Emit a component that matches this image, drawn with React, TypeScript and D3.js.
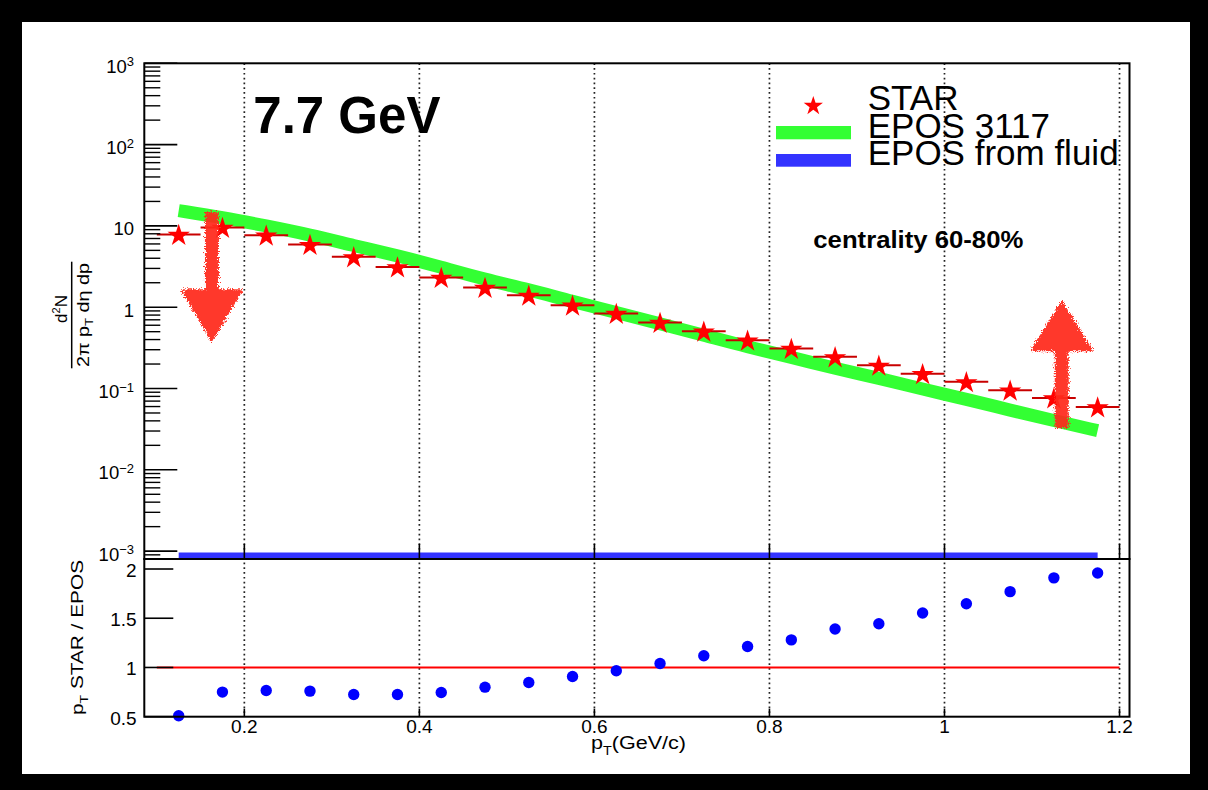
import React from "react";
import * as d3 from "d3";

// ---------- data ----------
const ptBins = [0.125, 0.175, 0.225, 0.275, 0.325, 0.375, 0.425, 0.475, 0.525, 0.575, 0.625,
  0.675, 0.725, 0.775, 0.825, 0.875, 0.925, 0.975, 1.025, 1.075, 1.125, 1.175];
const starYield = [7.84, 9.56, 7.69, 5.9, 4.16, 3.13, 2.32, 1.75, 1.4, 1.06, 0.837,
  0.649, 0.507, 0.393, 0.311, 0.245, 0.193, 0.152, 0.121, 0.0954, 0.0765, 0.0594];
const eposYield = [15.4, 12.7, 10.0, 7.76, 5.73, 4.31, 3.11, 2.19, 1.65, 1.17, 0.866,
  0.624, 0.453, 0.324, 0.243, 0.176, 0.134, 0.098, 0.0738, 0.0542, 0.0403, 0.0303];
const fluidYield = [0, 0, 0, 0, 0, 0, 0, 0, 0, 0, 0, 0, 0, 0, 0, 0, 0, 0, 0, 0, 0, 0];
const ratioValues = [0.51, 0.75, 0.766, 0.76, 0.726, 0.726, 0.746, 0.8, 0.848, 0.909, 0.966,
  1.04, 1.119, 1.213, 1.28, 1.39, 1.444, 1.553, 1.647, 1.77, 1.91, 1.96];
const binHalfWidth = 0.025;

const xTicks = [0.2, 0.4, 0.6, 0.8, 1.0, 1.2];
const xTickLabels = ["0.2", "0.4", "0.6", "0.8", "1", "1.2"];
const yTopExponents = [-3, -2, -1, 0, 1, 2, 3];
const yTopLabels = [
  { base: "10", sup: "\u22123" },
  { base: "10", sup: "\u22122" },
  { base: "10", sup: "\u22121" },
  { base: "1", sup: "" },
  { base: "10", sup: "" },
  { base: "10", sup: "2" },
  { base: "10", sup: "3" },
];
const yBotTicks = [0.5, 1, 1.5, 2];
const yBotLabels = ["0.5", "1", "1.5", "2"];

const legendItems = ["STAR", "EPOS 3117", "EPOS from fluid"];

// hand-drawn arrow annotations (data coordinates)
const arrowDown = { pt: 0.163, from: 14.3, base: 1.62, tip: 0.39, headHalf: 0.034 };
const arrowUp = { pt: 1.134, from: 0.0337, base: 0.296, tip: 1.16, headHalf: 0.0343 };

// ---------- layout ----------
const W = 1208;
const H = 790;
const FL = 144.3, FR = 1129.5;
const TOP = 63.3, MID = 559, BOT = 716.7;
const FONT = "'Liberation Sans', Arial, Helvetica, sans-serif";

const xScale = d3.scaleLinear().domain([0.0857, 1.2114]).range([FL, FR]);
const yTop = d3.scaleLog().domain([Math.pow(10, -3.097), 1000]).range([MID, TOP]);
const yBot = d3.scaleLinear().domain([0.5, 2.1016]).range([BOT, MID]);

const starPath = d3.symbol(d3.symbolStar, 155)() as string;
const starPathLegend = d3.symbol(d3.symbolStar, 115)() as string;

function arrowPath(a: typeof arrowDown) {
  const x0 = xScale(a.pt);
  const hw = xScale(a.pt + a.headHalf) - x0;
  const sw = 6;
  const yF = yTop(a.from), yB = yTop(a.base), yT = yTop(a.tip);
  return `M${x0 - sw},${yF} L${x0 + sw},${yF} L${x0 + sw},${yB} L${x0 + hw},${yB} L${x0},${yT} L${x0 - hw},${yB} L${x0 - sw},${yB} Z`;
}

export default function App() {
  const minorTop: number[] = [];
  for (let e = -4; e <= 2; e++) {
    for (let k = 2; k <= 9; k++) {
      const v = k * Math.pow(10, e);
      if (v >= yTop.domain()[0] && v <= 1000) minorTop.push(v);
    }
  }
  const greenLine = d3.line<number>()
    .x((_, i) => xScale(ptBins[i]))
    .y((v) => yTop(v))
    .curve(d3.curveBasis)(eposYield) as string;
  const blueLine = d3.line<number>()
    .x((_, i) => xScale(ptBins[i]))
    .y((v) => (v > 0 ? yTop(v) : MID))(fluidYield) as string;

  return (
    <div style={{ position: "absolute", left: 0, top: 0 }}>
      <svg width={W} height={H} style={{ display: "block" }}>
        <defs>
          <clipPath id="clipTop">
            <rect x={FL} y={TOP} width={FR - FL} height={MID - TOP} />
          </clipPath>
          <filter id="rough" x="-30%" y="-30%" width="160%" height="160%">
            <feTurbulence type="fractalNoise" baseFrequency="0.8" numOctaves="2" seed="4" result="n" />
            <feDisplacementMap in="SourceGraphic" in2="n" scale="8" xChannelSelector="R" yChannelSelector="G" />
          </filter>
        </defs>
        <rect x={0} y={0} width={W} height={H} fill="#000" />
        <rect x={22} y={22} width={1168} height={752} fill="#fff" />

        {/* grid lines */}
        {xTicks.map((t, i) => (
          <line key={"g" + i} x1={xScale(t)} x2={xScale(t)} y1={TOP} y2={BOT}
            stroke="#222" strokeWidth={1.7} strokeDasharray="1.7 3.1" />
        ))}

        {/* top panel curves */}
        <g clipPath="url(#clipTop)">
          <path d={greenLine} fill="none" stroke="#33ff33" strokeWidth={13} />
          <path d={blueLine} fill="none" stroke="#3333ff" strokeWidth={13} />
        </g>
        {/* STAR error bars */}
        {ptBins.map((p, i) => (
          <line key={"e" + i} x1={xScale(p - binHalfWidth)} x2={xScale(p + binHalfWidth)}
            y1={yTop(starYield[i])} y2={yTop(starYield[i])} stroke="#c80000" strokeWidth={2} />
        ))}
        {ptBins.map((p, i) => (
          <path key={"s" + i} d={starPath} fill="#ff0000"
            transform={`translate(${xScale(p)},${yTop(starYield[i]) + 1})`} />
        ))}

        {/* ratio panel */}
        <line x1={xScale(0.1)} x2={xScale(1.2)} y1={yBot(1)} y2={yBot(1)} stroke="#ff0000" strokeWidth={2} />
        {ptBins.map((p, i) => (
          <circle key={"r" + i} cx={xScale(p)} cy={yBot(ratioValues[i])} r={5.7} fill="#0000ff" />
        ))}

        {/* frames */}
        <rect x={FL} y={TOP} width={FR - FL} height={MID - TOP} fill="none" stroke="#000" strokeWidth={2} />
        <rect x={FL} y={MID} width={FR - FL} height={BOT - MID} fill="none" stroke="#000" strokeWidth={2} />

        {/* y ticks top */}
        {yTopExponents.map((e) => (
          <line key={"yt" + e} x1={FL} x2={FL + 33} y1={yTop(Math.pow(10, e))} y2={yTop(Math.pow(10, e))}
            stroke="#000" strokeWidth={1.6} />
        ))}
        {minorTop.map((v, i) => (
          <line key={"ym" + i} x1={FL} x2={FL + 16} y1={yTop(v)} y2={yTop(v)} stroke="#000" strokeWidth={1.4} />
        ))}
        {yTopExponents.map((e, i) => (
          <text key={"yl" + e} x={134} y={yTop(Math.pow(10, e)) + 9.5} textAnchor="end"
            fontFamily={FONT} fontSize={18.5} fill="#000">
            {yTopLabels[i].base}
            {yTopLabels[i].sup && (
              <tspan fontSize={13} dy={-6.5}>{yTopLabels[i].sup}</tspan>
            )}
          </text>
        ))}

        {/* y ticks bottom */}
        {yBotTicks.map((t, i) => (
          <g key={"yb" + i}>
            <line x1={FL} x2={FL + 29} y1={yBot(t)} y2={yBot(t)} stroke="#000" strokeWidth={1.6} />
            <text x={136.7} y={yBot(t) + 8} textAnchor="end" fontFamily={FONT} fontSize={19} fill="#000">
              {yBotLabels[i]}
            </text>
          </g>
        ))}

        {/* x ticks */}
        {xTicks.map((t, i) => (
          <g key={"xt" + i}>
            <line x1={xScale(t)} x2={xScale(t)} y1={MID} y2={MID - 15} stroke="#000" strokeWidth={1.6} />
            <line x1={xScale(t)} x2={xScale(t)} y1={BOT} y2={BOT - 8} stroke="#000" strokeWidth={1.6} />
            <text x={xScale(t)} y={733} textAnchor="middle" fontFamily={FONT} fontSize={19} fill="#000">
              {xTickLabels[i]}
            </text>
          </g>
        ))}

        {/* axis titles */}
        <text x={591} y={749} fontFamily={FONT} fontSize={18} fill="#000" textLength={95} lengthAdjust="spacingAndGlyphs">
          p<tspan fontSize={12} dy={6}>T</tspan><tspan dy={-6}>(GeV/c)</tspan>
        </text>
        <g transform="translate(71.7,315) rotate(-90)">
          <line x1={-53.3} x2={53.3} y1={0} y2={0} stroke="#000" strokeWidth={1.5} />
          <text x={6} y={-4.5} textAnchor="middle" fontFamily={FONT} fontSize={17} fill="#000">
            d<tspan fontSize={11} dy={-7}>2</tspan><tspan dy={7}>N</tspan>
          </text>
          <text x={0} y={17.5} textAnchor="middle" fontFamily={FONT} fontSize={16.5} fill="#000"
            textLength={104} lengthAdjust="spacingAndGlyphs">
            2π p<tspan fontSize={11} dy={4}>T</tspan><tspan dy={-4}> dη dp</tspan>
          </text>
        </g>
        <g transform="translate(83.3,637.5) rotate(-90)">
          <text x={0} y={0} textAnchor="middle" fontFamily={FONT} fontSize={16.5} fill="#000"
            textLength={155} lengthAdjust="spacingAndGlyphs">
            p<tspan fontSize={11} dy={5}>T</tspan><tspan dy={-5}> STAR / EPOS</tspan>
          </text>
        </g>

        {/* title and labels */}
        <text x={253.3} y={133.3} fontFamily={FONT} fontWeight="bold" fontSize={51} fill="#000">7.7 GeV</text>
        <text x={813.3} y={248.3} fontFamily={FONT} fontWeight="bold" fontSize={23.5} fill="#000"
          textLength={210} lengthAdjust="spacingAndGlyphs">centrality 60-80%</text>

        {/* legend */}
        <path d={starPathLegend} fill="#ff0000" transform="translate(813.3,106)" />
        <rect x={776} y={126} width={75} height={13.3} fill="#33ff33" />
        <rect x={776} y={154} width={75} height={12.7} fill="#3333ff" />
        {legendItems.map((t, i) => (
          <text key={"lg" + i} x={867.7} y={[110, 138.3, 165][i]} fontFamily={FONT} fontSize={35} fill="#000">
            {t}
          </text>
        ))}

        {/* hand-drawn arrows */}
        <g filter="url(#rough)" opacity={0.93}>
          <path d={arrowPath(arrowDown)} fill="#ff2b1c" stroke="#ff2b1c" strokeWidth={2} strokeLinejoin="round" />
          <path d={arrowPath(arrowUp)} fill="#ff2b1c" stroke="#ff2b1c" strokeWidth={2} strokeLinejoin="round" />
        </g>
      </svg>
    </div>
  );
}
